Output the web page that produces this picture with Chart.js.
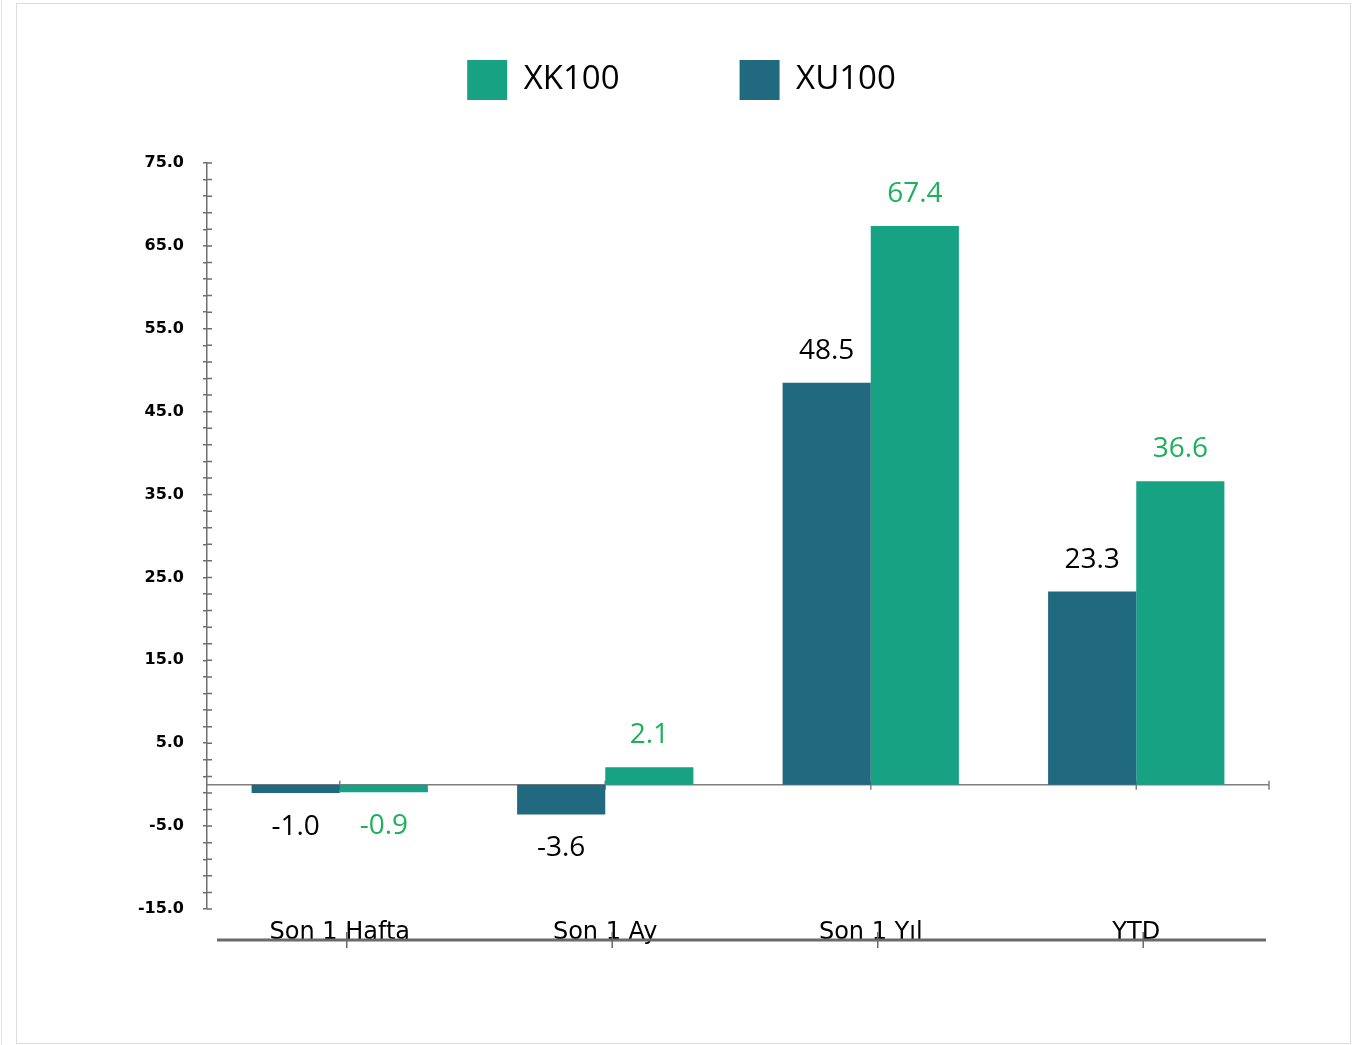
<!DOCTYPE html>
<html lang="tr">
<head>
    <meta charset="UTF-8">
    <title>XK100 / XU100</title>
    <script src="https://cdn.jsdelivr.net/npm/chart.js@4.4.0/dist/chart.umd.min.js"></script>
    <style>
        body { margin: 0; background: #fff; }
        #frame { position: absolute; left: 16px; top: 3px; width: 1333px; height: 1039px; border: 1px solid #dcdcdc; }
        #edge { position: absolute; left: 1px; top: 0; width: 1px; height: 1045px; background: #e4e4e4; }
    </style>
    <script>
        // data
        var categories = ["Son 1 Hafta", "Son 1 Ay", "Son 1 Yıl", "YTD"];
        var xu100 = [-1.0, -3.6, 48.5, 23.3];
        var xk100 = [-0.9, 2.1, 67.4, 36.6];
        var yMin = -15, yMax = 75;

        var darkColor = '#21697f';
        var greenColor = '#17a284';
        var greenText = '#1db25a';

        // value labels above / below each bar
        var valueLabels = {
            id: 'valueLabels',
            afterDatasetsDraw: function (chart) {
                var ctx = chart.ctx;
                ctx.save();
                ctx.font = '28px "Open Sans", "Noto Sans", sans-serif';
                ctx.textAlign = 'center';
                ctx.textBaseline = 'middle';
                chart.data.datasets.forEach(function (ds, di) {
                    var meta = chart.getDatasetMeta(di);
                    meta.data.forEach(function (bar, i) {
                        var v = ds.data[i];
                        ctx.fillStyle = ds.labelColor;
                        var y = v >= 0 ? bar.y - 32 : bar.y + 34;
                        ctx.fillText(v.toFixed(1), bar.x, y);
                    });
                });
                ctx.restore();
            }
        };

        // zero line, y axis minor crosses, bottom rule
        var axisDecor = {
            id: 'axisDecor',
            beforeDatasetsDraw: function (chart) {
                var ctx = chart.ctx;
                var x = chart.scales.x, y = chart.scales.y;
                var area = chart.chartArea;
                ctx.save();
                ctx.strokeStyle = '#7f7f7f';
                ctx.lineWidth = 1.5;
                var y0 = y.getPixelForValue(0);
                ctx.beginPath();
                ctx.moveTo(area.left, y0);
                ctx.lineTo(area.right, y0);
                ctx.stroke();
                // category ticks on zero line
                ctx.beginPath();
                for (var i = 0; i < categories.length; i++) {
                    var px = x.getPixelForValue(i);
                    ctx.moveTo(px, y0 - 4);
                    ctx.lineTo(px, y0 + 5);
                }
                ctx.moveTo(area.right, y0 - 4);
                ctx.lineTo(area.right, y0 + 5);
                ctx.stroke();
                // inner half of y ticks
                ctx.strokeStyle = '#6f6f6f';
                ctx.lineWidth = 1.5;
                ctx.beginPath();
                y.ticks.forEach(function (t) {
                    var py = y.getPixelForValue(t.value);
                    ctx.moveTo(area.left, py);
                    ctx.lineTo(area.left + 5, py);
                });
                ctx.stroke();
                ctx.restore();
            },
            afterDraw: function (chart) {
                var ctx = chart.ctx;
                var x = chart.scales.x;
                var area = chart.chartArea;
                var ly = area.bottom + 31;
                ctx.save();
                ctx.strokeStyle = '#6a6a6a';
                ctx.lineWidth = 3;
                ctx.beginPath();
                ctx.moveTo(area.left + 10, ly);
                ctx.lineTo(area.right - 3, ly);
                ctx.stroke();
                ctx.lineWidth = 1.5;
                ctx.beginPath();
                for (var i = 0; i < categories.length; i++) {
                    var px = x.getPixelForValue(i) + 7;
                    ctx.moveTo(px, ly - 8);
                    ctx.lineTo(px, ly + 8);
                }
                ctx.stroke();
                ctx.restore();
            }
        };

        var legendGap = {
            id: 'legendGap',
            beforeInit: function (chart) {
                var fit = chart.legend.fit;
                chart.legend.fit = function () {
                    fit.bind(chart.legend)();
                    this.height += 53;
                };
            }
        };

        window.onload = function () {
            var ctx = document.getElementById('myChart');
            new Chart(ctx, {
                type: 'bar',
                data: {
                    labels: categories,
                    datasets: [
                        { label: 'XU100', data: xu100, backgroundColor: darkColor, labelColor: '#000' },
                        { label: 'XK100', data: xk100, backgroundColor: greenColor, labelColor: greenText }
                    ]
                },
                options: {
                    responsive: false,
                    animation: false,
                    datasets: { bar: { barPercentage: 1.0, categoryPercentage: 0.664 } },
                    layout: { padding: { left: 0, right: 4, top: -64, bottom: 0 } },
                    plugins: {
                        tooltip: { enabled: false },
                        legend: {
                            reverse: true,
                            labels: {
                                boxWidth: 40, boxHeight: 40, padding: 120,
                                color: '#000',
                                font: { size: 33, family: '"Open Sans", "Noto Sans", sans-serif' }
                            }
                        }
                    },
                    scales: {
                        x: {
                            grid: { display: false },
                            border: { display: false },
                            ticks: {
                                color: '#000', padding: 1,
                                font: { size: 24, family: '"DejaVu Sans", sans-serif' }
                            },
                            afterFit: function (s) { s.height = 134; }
                        },
                        y: {
                            min: yMin, max: yMax,
                            border: { display: true, color: '#6f6f6f', width: 1.5 },
                            grid: { drawOnChartArea: false, tickColor: '#6f6f6f', tickLength: 4, lineWidth: 1.5 },
                            ticks: {
                                stepSize: 2, autoSkip: false, padding: 19, color: '#000',
                                font: { size: 16, weight: 'bold', family: '"DejaVu Sans", sans-serif' },
                                callback: function (v) {
                                    return (v - yMin) % 10 === 0 ? v.toFixed(1) : '';
                                }
                            },
                            afterFit: function (s) { s.width = 190; }
                        },
                        yRight: {
                            type: 'linear', position: 'right',
                            grid: { display: false },
                            border: { display: false },
                            ticks: { display: false },
                            afterFit: function (s) { s.width = 77; }
                        }
                    }
                },
                plugins: [valueLabels, axisDecor, legendGap]
            });
        };
    </script>
</head>
<body>
    <div id="edge"></div>
    <div id="frame">
        <canvas id="myChart" width="1333" height="1039"></canvas>
    </div>
</body>
</html>
